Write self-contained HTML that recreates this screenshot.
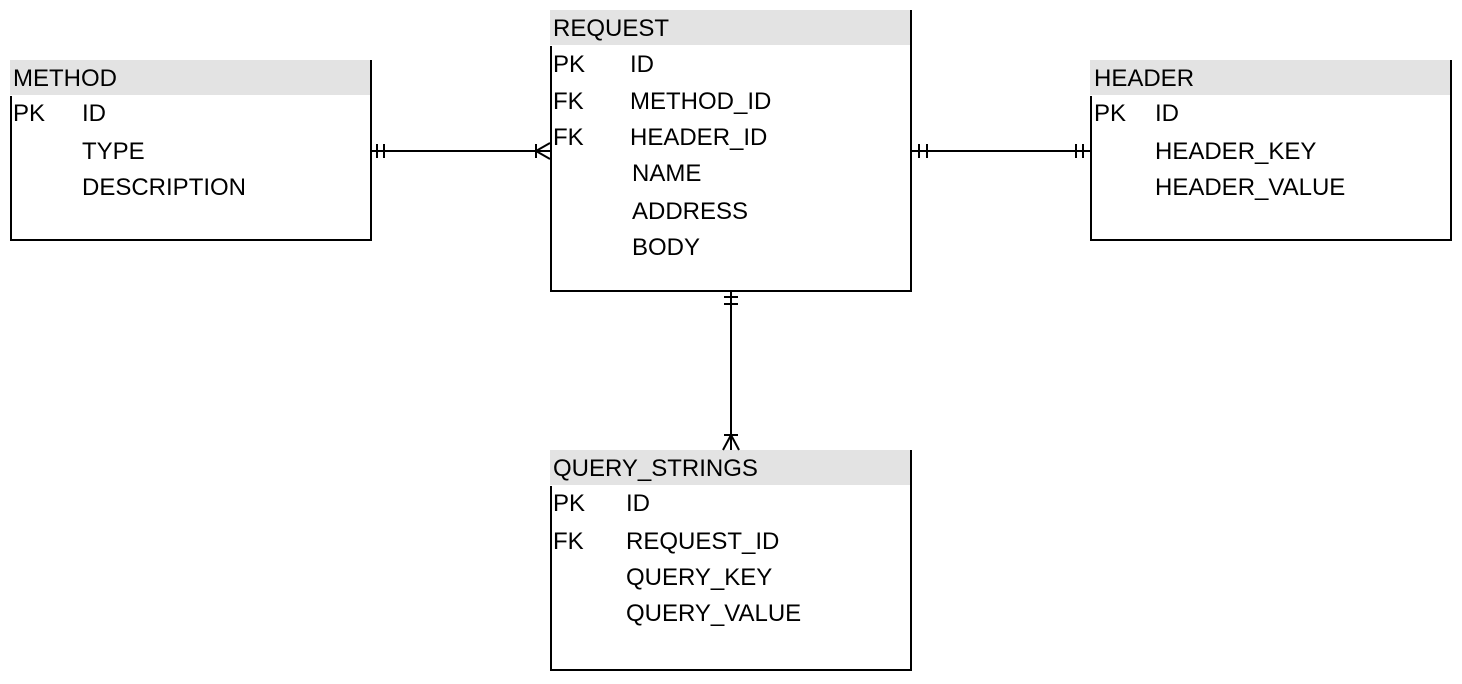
<!DOCTYPE html>
<html><head><style>html,body{margin:0;padding:0;background:#fff;}svg{display:block}text{font-family:"Liberation Sans",Arial,sans-serif;font-size:24px;}</style></head>
<body>
<svg width="1462" height="684" xmlns="http://www.w3.org/2000/svg" fill="#000">
<g stroke="#000" stroke-width="2" fill="none">
<rect x="10" y="60" width="361" height="35" fill="#e3e3e3" stroke="none"/>
<path d="M11 96 V240 H371 V60"/>
<rect x="550" y="10" width="361" height="35" fill="#e3e3e3" stroke="none"/>
<path d="M551 46 V291 H911 V10"/>
<rect x="1090" y="60" width="361" height="35" fill="#e3e3e3" stroke="none"/>
<path d="M1091 96 V240 H1451 V60"/>
<rect x="550" y="450" width="361" height="35" fill="#e3e3e3" stroke="none"/>
<path d="M551 486 V670 H911 V450"/>
<path d="M371 151 H550 M377 144 V158 M384 144 V158 M536 144 V158 M536 151 L550 143 M536 151 L550 159"/>
<path d="M911 151 H1090 M919 144 V158 M927 144 V158 M1076 144 V158 M1083 144 V158"/>
<path d="M731 291 V450 M724 297 H738 M724 304 H738 M724 435 H738 M731 435 L723 450 M731 435 L739 450"/>
</g>
<text x="13" y="86">METHOD</text>
<text x="13" y="121">PK</text><text x="82" y="121">ID</text>
<text x="82" y="159">TYPE</text>
<text x="82" y="195">DESCRIPTION</text>

<text x="553" y="36">REQUEST</text>
<text x="553" y="72">PK</text><text x="630" y="72">ID</text>
<text x="553" y="109">FK</text><text x="630" y="109">METHOD_ID</text>
<text x="553" y="145">FK</text><text x="630" y="145">HEADER_ID</text>
<text x="632" y="181">NAME</text>
<text x="632" y="219">ADDRESS</text>
<text x="632" y="255">BODY</text>

<text x="1094" y="86">HEADER</text>
<text x="1094" y="121">PK</text><text x="1155" y="121">ID</text>
<text x="1155" y="159">HEADER_KEY</text>
<text x="1155" y="195">HEADER_VALUE</text>

<text x="553" y="476">QUERY_STRINGS</text>
<text x="553" y="511">PK</text><text x="626" y="511">ID</text>
<text x="553" y="549">FK</text><text x="626" y="549">REQUEST_ID</text>
<text x="626" y="585">QUERY_KEY</text>
<text x="626" y="621">QUERY_VALUE</text>
</svg>
</body></html>
